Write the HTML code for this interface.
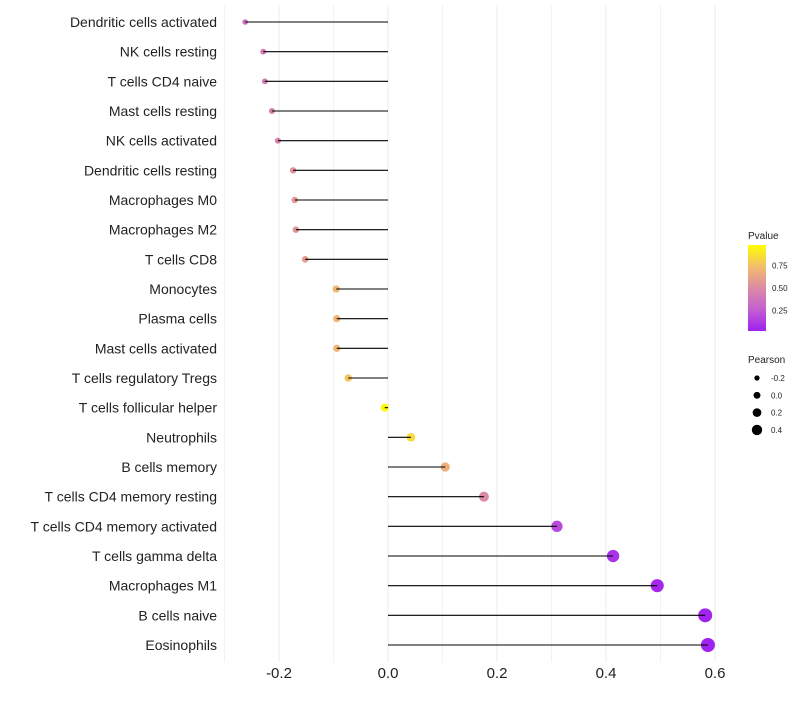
<!DOCTYPE html>
<html><head><meta charset="utf-8"><style>
body{margin:0;background:#fff;font-family:"Liberation Sans",sans-serif}
</style></head><body>
<svg id="chart" width="800" height="700" xmlns="http://www.w3.org/2000/svg" font-family="Liberation Sans, sans-serif"></svg>
<script>
const categories=["Dendritic cells activated","NK cells resting","T cells CD4 naive","Mast cells resting","NK cells activated","Dendritic cells resting","Macrophages M0","Macrophages M2","T cells CD8","Monocytes","Plasma cells","Mast cells activated","T cells regulatory  Tregs ","T cells follicular helper","Neutrophils","B cells memory","T cells CD4 memory resting","T cells CD4 memory activated","T cells gamma delta","Macrophages M1","B cells naive","Eosinophils"];
const pearson=[-0.262,-0.229,-0.226,-0.213,-0.202,-0.174,-0.171,-0.169,-0.152,-0.095,-0.094,-0.094,-0.073,-0.006,0.042,0.105,0.176,0.310,0.413,0.494,0.582,0.587];
const pvalues=[0.35,0.42,0.43,0.45,0.46,0.55,0.56,0.56,0.6,0.72,0.72,0.72,0.78,0.98,0.86,0.68,0.5,0.17,0.07,0.03,0.01,0.01];
const xTicks=[-0.2,0.0,0.2,0.4,0.6];
const xTickLabels=["-0.2","0.0","0.2","0.4","0.6"];
const legendTicks=[0.25,0.5,0.75];
const sizeTicks=[-0.2,0.0,0.2,0.4];

const NS="http://www.w3.org/2000/svg";
const svg=document.getElementById('chart');
const x=v=>388+v*545;
const y=i=>22+i*(623/21);
const r=v=>Math.max(1.5,4.1+5*v);
const stops=[[0,[160,32,240]],[0.25,[196,95,208]],[0.5,[220,138,165]],[0.75,[242,189,108]],[1,[255,255,0]]];
function col(p){for(let i=1;i<stops.length;i++){if(p<=stops[i][0]){const a=stops[i-1],b=stops[i],t=(p-a[0])/(b[0]-a[0]);return 'rgb('+a[1].map((c,k)=>Math.round(c+(b[1][k]-c)*t)).join(',')+')';}}return 'rgb(255,255,0)';}
function el(t,a,p){const e=document.createElementNS(NS,t);for(const k in a)e.setAttribute(k,a[k]);(p||svg).appendChild(e);return e;}

for(let v=-0.3;v<=0.65;v+=0.1){const g=el('line',{x1:x(v),x2:x(v),y1:5,y2:662,stroke:'#ebebeb','stroke-width':Math.abs((Math.round(v*10))%2)===0?1:0.6});

}
xTicks.forEach((v,i)=>{const t=el('text',{x:x(v),y:678,'text-anchor':'middle','font-size':15,fill:'#222'});t.textContent=xTickLabels[i];

});

categories.forEach((c,i)=>{
const t=el('text',{x:217,y:y(i)+5,'text-anchor':'end','font-size':14,fill:'#222'});t.textContent=c;


const p=el('circle',{cx:x(pearson[i]),cy:y(i),r:r(pearson[i]),fill:col(pvalues[i])});


const l=el('line',{x1:x(0),x2:x(pearson[i]),y1:y(i),y2:y(i),stroke:'#000','stroke-width':1.1});


});

const lt=el('text',{x:748,y:239,'font-size':10,fill:'#222'});lt.textContent='Pvalue';


const defs=el('defs',{});const gr=el('linearGradient',{id:'pg',x1:0,y1:1,x2:0,y2:0},defs);
stops.forEach(s=>el('stop',{offset:s[0],'stop-color':col(s[0])},gr));
const bar=el('rect',{x:748,y:245,width:18,height:86,fill:'url(#pg)'});


legendTicks.forEach(v=>{const yy=331-(v-0.02)/0.96*86;
const t=el('text',{x:772,y:yy+3,'font-size':8,fill:'#222'});t.textContent=v.toFixed(2);

});
const st=el('text',{x:748,y:363,'font-size':10,fill:'#222'});st.textContent='Pearson';


sizeTicks.forEach((v,i)=>{const yy=378+i*17.3;
const c=el('circle',{cx:757,cy:yy,r:r(v)*0.85,fill:'#000'});


const t=el('text',{x:771,y:yy+3,'font-size':8,fill:'#222'});t.textContent=v.toFixed(1);

});
</script>
</body></html>
